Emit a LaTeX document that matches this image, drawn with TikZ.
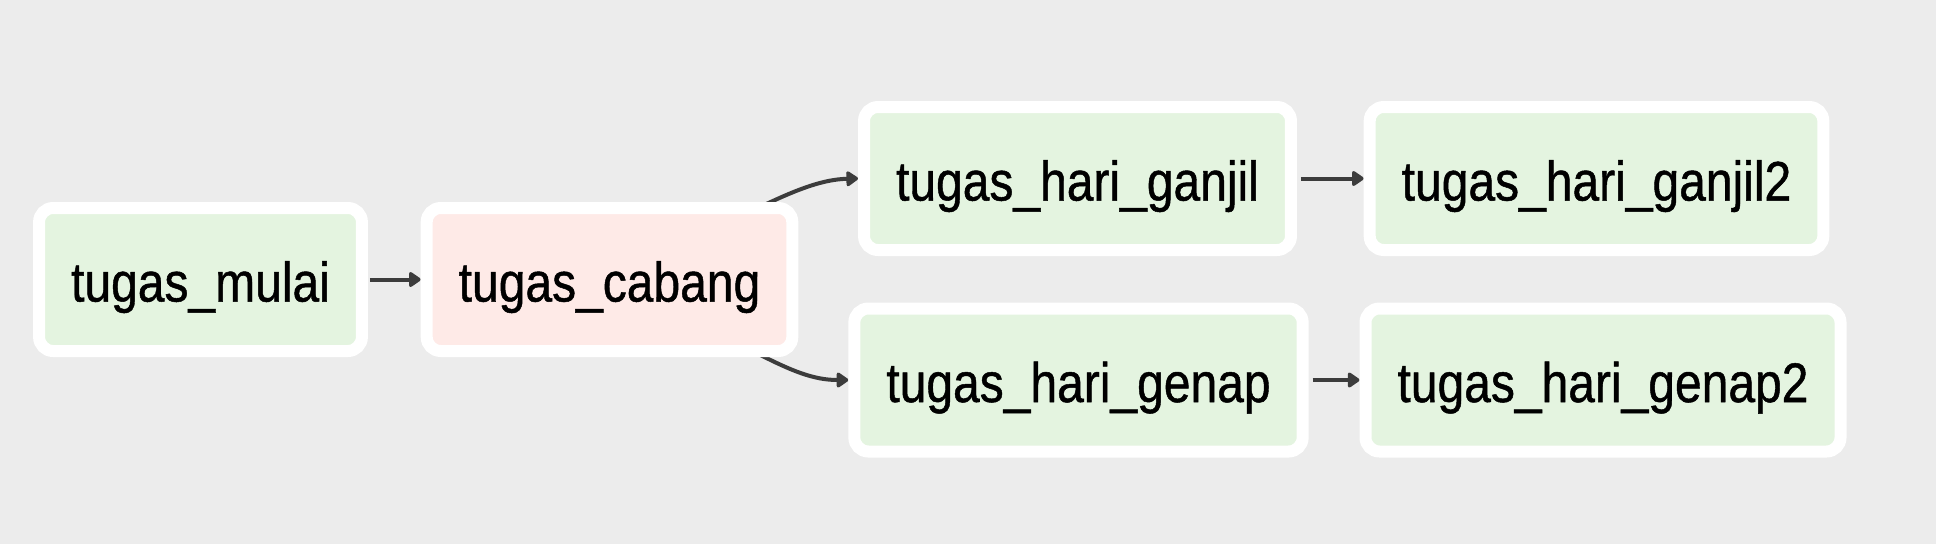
\documentclass[tikz,border=0pt]{standalone}
\usepackage{fontspec}
\setmainfont{Liberation Sans}
\newfontfamily\taskfont[FakeBold=0.9]{Liberation Sans}
\usetikzlibrary{arrows.meta}
\pgfdeclarelayer{background}
\pgfsetlayers{background,main}
\definecolor{bgcol}{RGB}{236,236,236}
\definecolor{okfill}{RGB}{228,244,224}
\definecolor{skipfill}{RGB}{254,234,231}
\definecolor{edgecol}{RGB}{60,60,60}
\newcommand{\tasklabel}[1]{\scalebox{1}[1.16]{#1}}
\begin{document}
\begin{tikzpicture}[x=1pt,y=-1pt,
  task/.style={draw=white, line width=12pt, rounded corners=14pt, fill=okfill,
    inner xsep=32pt, inner ysep=0pt, minimum height=143pt,
    text height=54pt, text depth=10pt, outer sep=6pt,
    font=\taskfont\fontsize{48}{58}\selectfont},
  skipped/.style={task, fill=skipfill},
  edge/.style={draw=edgecol, line width=4pt, -{Triangle[length=13pt,width=17pt,round]}}]
\begin{pgfonlayer}{background}
\fill[bgcol] (0,0) rectangle (1936,544);
\end{pgfonlayer}
\useasboundingbox (0,0) rectangle (1936,544);

\node[task] (mulai) at (200.5,279.5) {\tasklabel{tugas\_mulai}};
\node[skipped] (cabang) at (609.5,279.5) {\tasklabel{tugas\_cabang}};
\node[task] (ganjil) at (1077.5,178.5) {\tasklabel{tugas\_hari\_ganjil}};
\node[task] (ganjil2) at (1596.5,178.5) {\tasklabel{tugas\_hari\_ganjil2}};
\node[task] (genap) at (1078.5,380) {\tasklabel{tugas\_hari\_genap}};
\node[task] (genap2) at (1603,380) {\tasklabel{tugas\_hari\_genap2}};

\begin{pgfonlayer}{background}
\draw[edge, shorten <=2pt] (mulai.east) -- (cabang.west);
\draw[edge] (cabang.center) .. controls (750,215) and (800,180) .. (ganjil.west);
\draw[edge] (cabang.center) .. controls (750,344) and (790,380) .. (genap.west);
\draw[edge, shorten <=4pt] (ganjil.east) -- (ganjil2.west);
\draw[edge, shorten <=4pt] (genap.east) -- (genap2.west);
\end{pgfonlayer}
\end{tikzpicture}
\end{document}
